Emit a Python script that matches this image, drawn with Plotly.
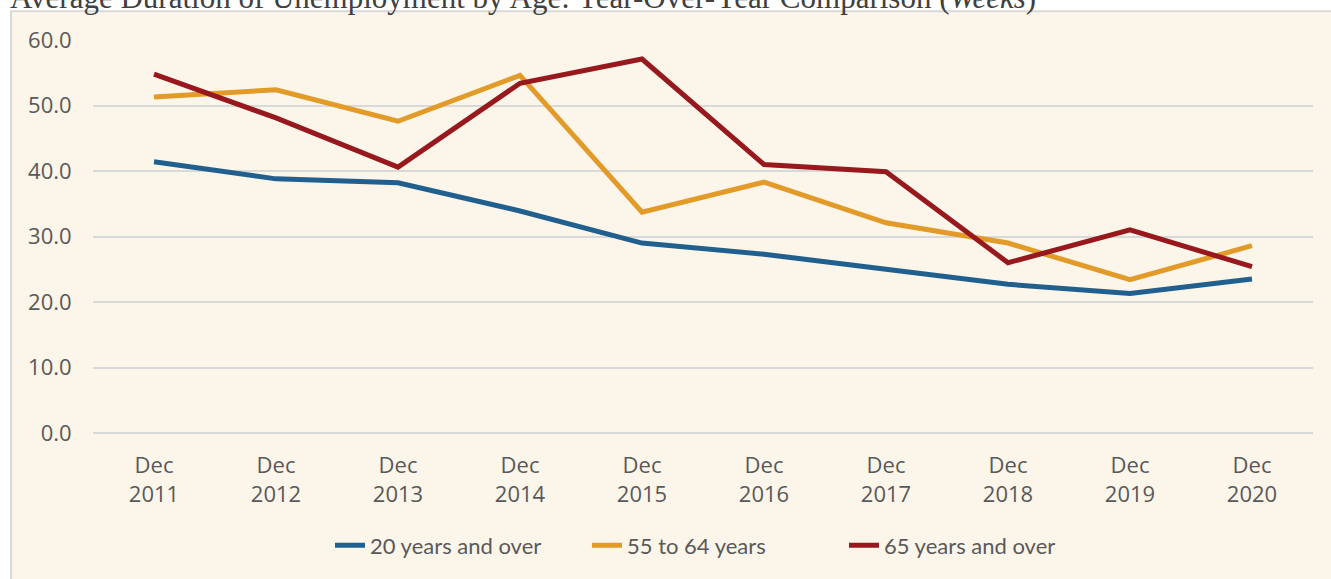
import plotly.graph_objects as go

categories = ["Dec<br>2011", "Dec<br>2012", "Dec<br>2013", "Dec<br>2014", "Dec<br>2015",
              "Dec<br>2016", "Dec<br>2017", "Dec<br>2018", "Dec<br>2019", "Dec<br>2020"]
age_20_over = [41.4, 38.8, 38.2, 33.9, 29.0, 27.3, 25.0, 22.7, 21.3, 23.5]
age_55_64 = [51.3, 52.4, 47.6, 54.6, 33.7, 38.3, 32.1, 29.0, 23.4, 28.6]
age_65_over = [54.8, 48.1, 40.6, 53.4, 57.1, 41.0, 39.9, 26.0, 31.0, 25.4]
y_ticks = [0, 10, 20, 30, 40, 50, 60]
y_tick_labels = ["0.0", "10.0", "20.0", "30.0", "40.0", "50.0", "60.0"]

W, H = 1331, 579
ML, MR, MT, MB = 93, 18, 40, 144
PW, PH = W - ML - MR, H - MT - MB


def px_x(p):
    return (p - ML) / PW


def px_y(p):
    return (H - MB - p) / PH


fig = go.Figure()
series = [
    ("20 years and over", age_20_over, "#215F8F"),
    ("55 to 64 years", age_55_64, "#E29B29"),
    ("65 years and over", age_65_over, "#97191E"),
]
for name, vals, color in series:
    fig.add_trace(go.Scatter(
        x=categories, y=vals, name=name, mode="lines",
        line=dict(color=color, width=5),
    ))

fig.add_shape(
    type="rect", xref="paper", yref="paper", layer="below",
    x0=px_x(11), x1=px_x(1340), y0=px_y(590), y1=px_y(11),
    fillcolor="#FBF5EA", line=dict(color="#D9D9D9", width=2),
)

tick_font = dict(family="Open Sans", size=22, color="#595959")

fig.update_layout(
    width=W, height=H,
    margin=dict(l=ML, r=MR, t=MT, b=MB, pad=0),
    paper_bgcolor="white",
    plot_bgcolor="rgba(0,0,0,0)",
    title=dict(
        text="Average Duration of Unemployment by Age: Year-Over-Year Comparison (<i>Weeks</i>)",
        font=dict(family="Liberation Serif", size=31, color="#404040"),
        x=10 / W, xanchor="left", xref="container",
        y=1 - 8 / H, yanchor="bottom", yref="container",
    ),
    xaxis=dict(
        type="category", range=[-0.5, 9.5],
        showgrid=False, zeroline=False, showline=False,
        ticks="outside", ticklen=13, tickcolor="rgba(0,0,0,0)",
        tickfont=tick_font,
    ),
    yaxis=dict(
        range=[0, 60], tickvals=y_ticks, ticktext=y_tick_labels,
        showgrid=True, gridcolor="#D9D9D9", gridwidth=2,
        zeroline=True, zerolinecolor="#D9D9D9", zerolinewidth=2,
        showline=False, ticks="outside", ticklen=16, tickcolor="rgba(0,0,0,0)",
        tickfont=tick_font,
    ),
    legend=dict(
        orientation="h", x=px_x(330), xanchor="left",
        y=px_y(548), yanchor="middle",
        font=dict(family="Lato", size=22, color="#595959"),
        bgcolor="rgba(0,0,0,0)", tracegroupgap=0,
        entrywidth=212, entrywidthmode="pixels",
    ),
    showlegend=True,
)

fig.write_html(
    "out.html",
    config={"displayModeBar": False},
    post_script="document.body.style.margin='0';",
)
